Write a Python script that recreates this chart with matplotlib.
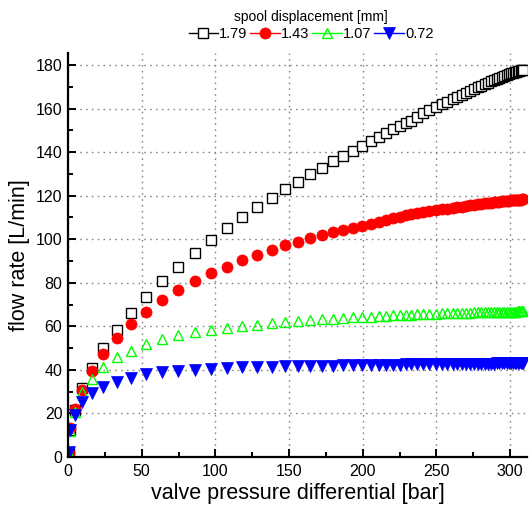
import matplotlib
matplotlib.use("Agg")
import matplotlib.pyplot as plt
from matplotlib.ticker import MultipleLocator

plt.rcParams['font.family'] = ['Liberation Sans', 'DejaVu Sans']

# valve pressure differential [bar], shared by all four runs
dp = [0.5, 1.4, 4.7, 9.5, 16.3, 23.7, 33.2, 42.7, 52.9, 63.8,
      74.6, 86.2, 97.0, 107.9, 118.0, 128.2, 138.4, 147.2, 156.0, 164.2,
      172.3, 179.8, 186.6, 193.4, 199.5, 205.6, 211.0, 215.7, 220.5, 225.2,
      229.3, 232.7, 236.8, 240.8, 244.9, 249.7, 253.7, 257.1, 261.2, 263.9,
      267.3, 270.0, 272.7, 275.4, 278.2, 280.5, 282.9, 284.9, 287.0, 289.0,
      291.1, 292.8, 294.5, 296.1, 297.8, 299.2, 300.6, 301.9, 303.3, 304.3,
      305.3, 306.4, 307.4, 308.0, 308.7]

# flow rate [L/min] per spool displacement
q_179 = [2.0, 12.5, 21.5, 31.7, 40.9, 50.0, 58.3, 66.1, 73.5, 80.8,
         87.2, 93.7, 99.6, 105.1, 110.2, 114.8, 118.9, 123.0, 126.3, 129.9,
         132.7, 135.9, 138.2, 140.5, 142.8, 145.1, 146.9, 148.8, 150.6, 152.0,
         153.4, 154.3, 156.1, 157.9, 159.3, 160.7, 162.1, 163.0, 164.4, 165.3,
         166.2, 167.1, 168.0, 168.9, 169.8, 170.5, 171.3, 171.9, 172.5, 173.1,
         173.7, 174.2, 174.7, 175.1, 175.6, 175.9, 176.2, 176.5, 176.8, 177.0,
         177.2, 177.4, 177.6, 177.7, 177.8]
q_143 = [2.0, 13.3, 22.0, 30.8, 39.5, 47.3, 54.6, 61.1, 66.6, 72.1,
         76.7, 80.8, 84.5, 87.2, 90.4, 92.7, 95.0, 97.3, 98.7, 100.6,
         101.9, 103.3, 104.2, 105.1, 106.1, 107.0, 107.9, 108.8, 109.7, 110.2,
         111.1, 111.4, 111.9, 112.4, 112.8, 113.3, 113.7, 114.0, 114.4, 114.7,
         115.0, 115.3, 115.5, 115.8, 116.0, 116.2, 116.4, 116.6, 116.8, 116.9,
         117.1, 117.2, 117.4, 117.5, 117.6, 117.7, 117.8, 117.9, 118.0, 118.05,
         118.1, 118.2, 118.2, 118.3, 118.3]
q_107 = [1.5, 12.0, 20.7, 29.8, 35.8, 41.3, 45.9, 48.7, 51.9, 54.2,
         56.0, 57.4, 58.3, 59.2, 60.1, 60.8, 61.5, 62.0, 62.4, 62.8,
         63.2, 63.5, 63.8, 64.1, 64.3, 64.5, 64.7, 64.9, 65.0, 65.2,
         65.3, 65.4, 65.5, 65.6, 65.7, 65.8, 65.9, 66.0, 66.1, 66.1,
         66.2, 66.3, 66.3, 66.4, 66.4, 66.5, 66.5, 66.5, 66.6, 66.6,
         66.6, 66.7, 66.7, 66.7, 66.7, 66.8, 66.8, 66.8, 66.8, 66.8,
         66.9, 66.9, 66.9, 66.9, 66.9]
q_072 = [2.3, 12.4, 19.3, 25.3, 29.4, 32.1, 34.4, 36.3, 38.1, 39.0,
         39.5, 39.9, 40.4, 40.9, 41.1, 41.3, 41.5, 41.6, 41.7, 41.8,
         41.9, 42.0, 42.05, 42.1, 42.2, 42.25, 42.3, 42.35, 42.4, 42.45,
         42.5, 42.5, 42.55, 42.6, 42.6, 42.65, 42.7, 42.7, 42.75, 42.75,
         42.8, 42.8, 42.8, 42.85, 42.85, 42.85, 42.9, 42.9, 42.9, 42.9,
         42.95, 42.95, 42.95, 42.95, 43.0, 43.0, 43.0, 43.0, 43.0, 43.0,
         43.05, 43.05, 43.05, 43.05, 43.05]

labels = ['1.79', '1.43', '1.07', '0.72']

fig = plt.figure(figsize=(5.3, 5.12), dpi=100)
ax = fig.add_axes([68 / 530, 55 / 512, 459 / 530, 404 / 512])

ax.plot(dp, q_179, ls='-', lw=0, marker='s', ms=7.0, mfc='white', mec='black',
        mew=1.0, label=labels[0])
ax.plot(dp, q_143, ls='-', lw=0, marker='o', ms=8.0, mfc='red', mec='red',
        mew=0.5, label=labels[1])
ax.plot(dp, q_107, ls='-', lw=0, marker='^', ms=7.6, mfc='none', mec='#00ff00',
        mew=1.0, label=labels[2])
ax.plot(dp, q_072, ls='-', lw=0, marker='v', ms=8.0, mfc='blue', mec='blue',
        mew=0.5, label=labels[3])

ax.set_xlim(0, 311.5)
ax.set_ylim(0, 185.5)
ax.xaxis.set_major_locator(MultipleLocator(50))
ax.xaxis.set_minor_locator(MultipleLocator(25))
ax.yaxis.set_major_locator(MultipleLocator(20))
ax.yaxis.set_minor_locator(MultipleLocator(10))

ax.grid(True, which='major', color='#888888', lw=1.0, ls=(0, (1.2, 3)))
ax.set_axisbelow(True)

for side in ['top', 'right']:
    ax.spines[side].set_visible(False)
for side in ['left', 'bottom']:
    ax.spines[side].set_linewidth(1.6)

ax.tick_params(which='both', direction='in', width=1.4, labelsize=11.5,
               colors='black')
ax.tick_params(which='major', length=5.5)
ax.tick_params(which='minor', length=3.5)
ax.tick_params(axis='x', pad=5)
ax.tick_params(axis='y', pad=4)

ax.set_xlabel('valve pressure differential [bar]', fontsize=15.5, labelpad=3)
ax.set_ylabel('flow rate [L/min]', fontsize=15.5, labelpad=4)

# legend handles carry a short line so the marker sits between two dashes
handles = []
for line in ax.get_lines():
    h, = ax.plot([], [], ls='-', lw=1.0, color=line.get_mec(),
                 marker=line.get_marker(), ms=line.get_ms(),
                 mfc=line.get_mfc(), mec=line.get_mec(), mew=line.get_mew())
    handles.append(h)

leg = fig.legend(handles, labels, ncol=4, loc='upper center',
                 bbox_to_anchor=(311 / 530, 1.0), frameon=False,
                 title='spool displacement [mm]', title_fontsize=10,
                 fontsize=10.5, handlelength=2.0, handletextpad=0.1,
                 columnspacing=0.2, borderaxespad=0.3, labelspacing=0.2)
leg._legend_box.sep = 2

fig.savefig('out.png', dpi=100)
